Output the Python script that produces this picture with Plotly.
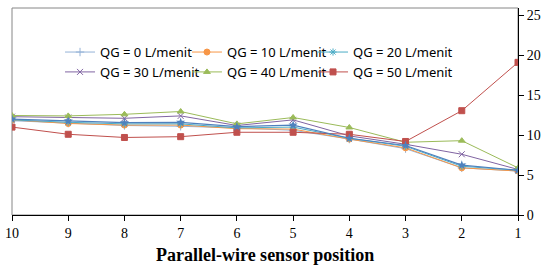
import plotly.graph_objects as go

positions = [10, 9, 8, 7, 6, 5, 4, 3, 2, 1]
qg0 = [11.8, 11.5, 11.2, 11.1, 10.9, 10.6, 9.5, 8.3, 5.9, 5.5]
qg10 = [11.9, 11.45, 11.25, 11.25, 10.8, 10.75, 9.5, 8.4, 5.9, 5.5]
qg20 = [11.9, 11.6, 11.4, 11.4, 10.9, 11.0, 9.6, 8.6, 6.1, 5.6]
qg30 = [12.3, 12.2, 12.1, 12.4, 11.2, 11.9, 9.9, 8.85, 7.6, 5.7]
qg40 = [12.45, 12.4, 12.6, 12.95, 11.4, 12.2, 10.95, 9.1, 9.3, 5.9]
qg50 = [11.0, 10.1, 9.7, 9.8, 10.35, 10.35, 10.1, 9.2, 13.05, 19.1]
extra = [12.0, 11.75, 11.55, 11.6, 11.05, 11.25, 9.6, 8.7, 6.25, 5.6]

names = ["QG = 0 L/menit", "QG = 10 L/menit", "QG = 20 L/menit",
         "QG = 30 L/menit", "QG = 40 L/menit", "QG = 50 L/menit"]
series = [qg0, qg10, qg20, qg30, qg40, qg50]
colors = ["#95B3D7", "#F79646", "#4BACC6", "#8064A2", "#9BBB59", "#C0504D"]
symbols = ["cross-thin-open", "circle", "asterisk-open", "x-thin-open", "triangle-up", "square"]

# legend slot positions (paper coords)
leg_x = [0.0949, 0.3458, 0.5949]
leg_y = [0.787, 0.691]

fig = go.Figure()
legend_layouts = {}
for i, (name, vals, c, s) in enumerate(zip(names, series, colors, symbols)):
    key = "legend" if i == 0 else f"legend{i + 1}"
    fig.add_trace(go.Scatter(
        x=positions, y=vals, name=name, mode="lines+markers", legend=key,
        line=dict(color=c, width=1),
        marker=dict(symbol=s, size=6, color=c, line=dict(color=c, width=1)),
    ))
    legend_layouts[key] = dict(
        x=leg_x[i % 3], y=leg_y[i // 3], xanchor="left", yanchor="middle",
        font=dict(family="Noto Sans, Open Sans, sans-serif", size=13, color="#000"),
        bgcolor="rgba(0,0,0,0)", itemwidth=30, borderwidth=0,
    )
fig.add_trace(go.Scatter(
    x=positions, y=extra, name="", mode="lines+markers", showlegend=False,
    line=dict(color="#4F81BD", width=1.2),
    marker=dict(symbol="star", size=7, color="#4F81BD"),
))

serif = "Liberation Serif, Times New Roman, serif"
fig.update_layout(
    width=556, height=266,
    margin=dict(l=12, r=38, t=8, b=51),
    paper_bgcolor="white", plot_bgcolor="white",
    showlegend=True,
    xaxis=dict(
        range=[10, 1], tickvals=positions, ticktext=[str(p) for p in positions],
        showgrid=False, zeroline=False, showline=True, linecolor="#000", linewidth=1,
        ticks="outside", ticklen=5, tickcolor="#000", automargin=False,
        tickfont=dict(family=serif, size=14, color="#000"),
    ),
    yaxis=dict(
        range=[0, 25.9], side="right", tickvals=[0, 5, 10, 15, 20, 25],
        showgrid=False, zeroline=False, showline=True, linecolor="#000", linewidth=1,
        ticks="outside", ticklen=5, tickcolor="#000", automargin=False,
        tickfont=dict(family=serif, size=14, color="#000"),
    ),
    shapes=[dict(type="rect", xref="paper", yref="paper", x0=0, x1=1, y0=0, y1=1,
                 line=dict(color="#868686", width=1), layer="below")],
    annotations=[dict(text="<b>Parallel-wire sensor position</b>", xref="paper", yref="paper",
                      x=0.5, y=-0.193, xanchor="center", yanchor="middle", showarrow=False,
                      font=dict(family=serif, size=18, color="#000"))],
    **legend_layouts,
)

fig.write_html("out.html", config={"displayModeBar": False},
               post_script="document.body.style.margin='0';")
